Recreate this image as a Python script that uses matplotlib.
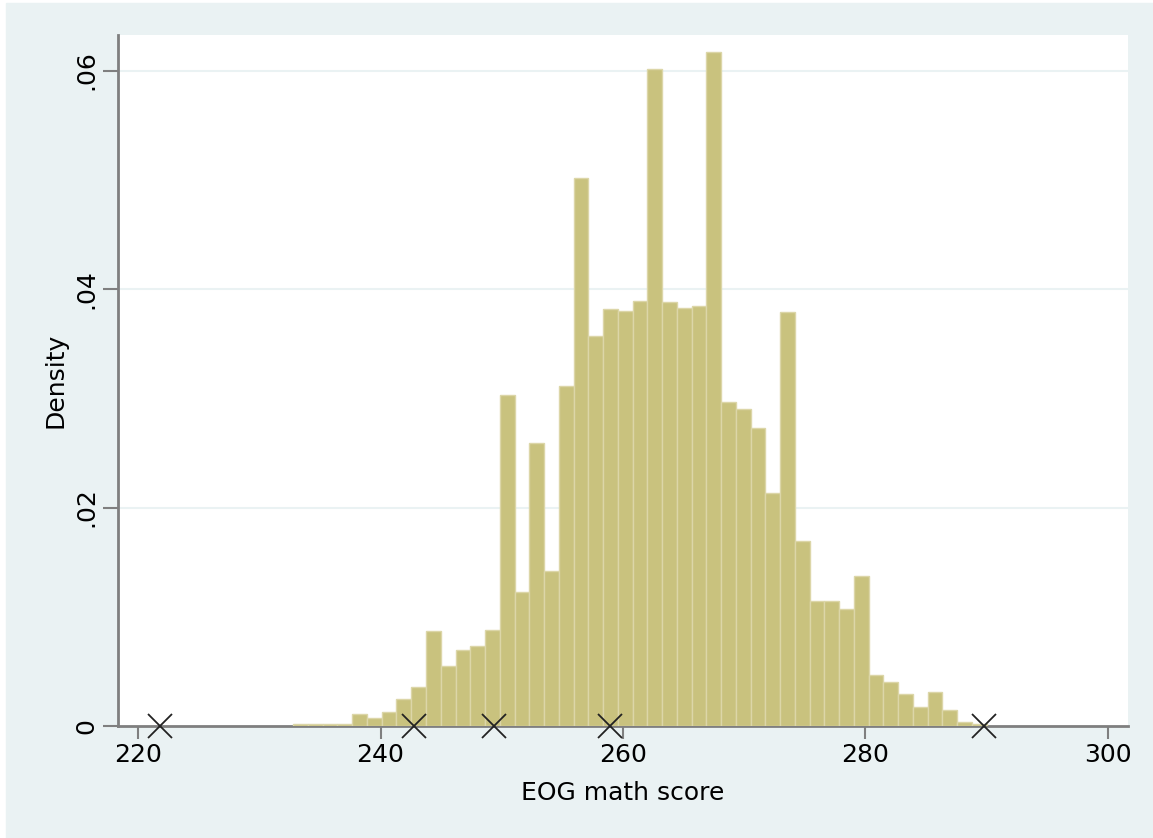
import numpy as np
import matplotlib
matplotlib.use("Agg")
import matplotlib.pyplot as plt
from matplotlib.patches import Rectangle

# histogram bins (EOG math score), 47 equal-width bins
bin_start = 232.8
bin_end = 290.0
density = [0.00015, 0.00015, 0.00015, 0.0002, 0.0011, 0.0007, 0.0013, 0.0025,
           0.0036, 0.0087, 0.0055, 0.0070, 0.0073, 0.0088, 0.0303, 0.0123,
           0.0259, 0.0142, 0.0311, 0.0502, 0.0357, 0.0382, 0.0380, 0.0389,
           0.0601, 0.0388, 0.0383, 0.0384, 0.0617, 0.0297, 0.0290, 0.0273,
           0.0213, 0.0379, 0.0169, 0.0114, 0.0114, 0.0107, 0.0137, 0.0047,
           0.0040, 0.0029, 0.0017, 0.0031, 0.0015, 0.0004, 0.0002]

# marked scores along the axis
mark_x = [221.8, 242.8, 249.4, 258.9, 289.8]

x_ticks = [220, 240, 260, 280, 300]
y_ticks = [0, 0.02, 0.04, 0.06]
y_ticklabels = ["0", ".02", ".04", ".06"]

bg = "#eaf2f3"
bar_col = "#c9c27e"
axis_col = "#7f7f7f"

plt.rcParams["font.family"] = ["DejaVu Sans"]

fig = plt.figure(figsize=(11.53, 8.38), dpi=100, facecolor="white")
fig.patches.append(Rectangle((6 / 1153, 0), 1 - 6 / 1153, 1 - 3 / 838,
                             transform=fig.transFigure, color=bg, zorder=-10))
ax = fig.add_axes([118 / 1153, 112 / 838, 1010 / 1153, 691 / 838])
ax.set_facecolor("white")

n = len(density)
w = (bin_end - bin_start) / n
lefts = bin_start + w * np.arange(n)
ax.bar(lefts, density, width=w, align="edge", color=bar_col,
       edgecolor="#dcd6a8", linewidth=1.0, zorder=4)

ax.plot(mark_x, [0] * len(mark_x), "x", color="#222222", markersize=17,
        markeredgewidth=1.3, zorder=5, clip_on=False)

ax.set_xlim(218.35, 301.65)
ax.set_ylim(0, 0.06325)

for yv in y_ticks[1:]:
    ax.axhline(yv, color=bg, linewidth=1.5, zorder=1)

ax.set_xticks(x_ticks)
ax.set_yticks(y_ticks)
ax.set_yticklabels(y_ticklabels, rotation=90, va="center")
ax.tick_params(axis="both", colors=axis_col, labelcolor="black",
               labelsize=18, width=1.5)
ax.tick_params(axis="x", length=9, pad=3)
ax.tick_params(axis="y", length=11, pad=3)

for s in ["top", "right"]:
    ax.spines[s].set_visible(False)
for s in ["left", "bottom"]:
    ax.spines[s].set_color(axis_col)
    ax.spines[s].set_linewidth(2)
    ax.spines[s].set_zorder(3)

ax.set_xlabel("EOG math score", fontsize=18, labelpad=10)
ax.set_ylabel("Density", fontsize=18, labelpad=5)

fig.savefig("out.png", dpi=100, facecolor=fig.get_facecolor())
